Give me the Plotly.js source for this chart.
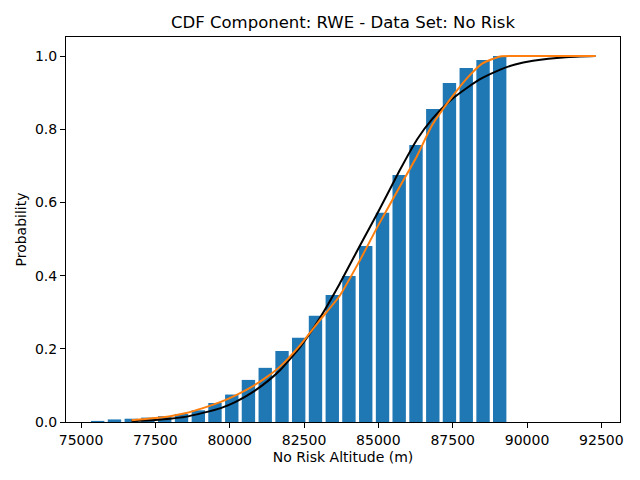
<!DOCTYPE html>
<html>
<head>
<meta charset="utf-8">
<script src="https://cdn.plot.ly/plotly-3.0.1.min.js"></script>
<style>
  html, body { margin: 0; padding: 0; background: #fff; }
  #plot { width: 640px; height: 480px; }
</style>
</head>
<body>
<div id="plot"></div>
<script>
// histogram bars (bin centres, cumulative probability)
var binCenters = [75560, 76125, 76690, 77250, 77815, 78380, 78945, 79505, 80070,
  80630, 81195, 81760, 82320, 82885, 83450, 84010, 84575, 85140, 85700, 86265,
  86830, 87390, 87955, 88520, 89080];
var binProb = [0.003, 0.007, 0.009, 0.012, 0.016, 0.022, 0.032, 0.052, 0.075,
  0.115, 0.148, 0.194, 0.230, 0.290, 0.347, 0.399, 0.481, 0.572, 0.675, 0.757,
  0.855, 0.926, 0.967, 0.989, 1.0];

// fitted curves
var curveX = [76700, 77400, 78000, 78500, 79100, 79700, 80200, 80800, 81300,
  81700, 82400, 83000, 83700, 84400, 85000, 85700, 86300, 86800, 87400, 88000,
  88500, 89100, 89600, 90200, 91300, 92300];
var blackCdf = [0.003, 0.005, 0.009, 0.014, 0.025, 0.038, 0.055, 0.083, 0.113,
  0.142, 0.208, 0.280, 0.378, 0.485, 0.575, 0.685, 0.772, 0.827, 0.877, 0.914,
  0.940, 0.963, 0.977, 0.987, 0.997, 1.0];
var orangeCdf = [0.005, 0.010, 0.016, 0.024, 0.038, 0.055, 0.073, 0.099, 0.126,
  0.152, 0.213, 0.275, 0.345, 0.445, 0.538, 0.640, 0.727, 0.810, 0.880, 0.941,
  0.980, 0.999, 1.0, 1.0, 1.0, 1.0];

var xTicks = [75000, 77500, 80000, 82500, 85000, 87500, 90000, 92500];
var xTickText = ["75000", "77500", "80000", "82500", "85000", "87500", "90000", "92500"];
var yTicks = [0, 0.2, 0.4, 0.6, 0.8, 1.0];
var yTickText = ["0.0", "0.2", "0.4", "0.6", "0.8", "1.0"];

var font = "DejaVu Sans, sans-serif";

var bars = {
  x: binCenters,
  y: binProb,
  type: "bar",
  width: 450,
  marker: { color: "#1f77b4", line: { width: 0 } },
  hoverinfo: "x+y"
};

var normLine = {
  x: curveX,
  y: blackCdf,
  type: "scatter",
  mode: "lines",
  line: { color: "#000000", width: 2, shape: "spline", smoothing: 0.5 }
};

var fitLine = {
  x: curveX,
  y: orangeCdf,
  type: "scatter",
  mode: "lines",
  line: { color: "#ff7f0e", width: 2, shape: "spline", smoothing: 0.5 }
};

var axisCommon = {
  showgrid: false,
  zeroline: false,
  showline: true,
  mirror: true,
  linecolor: "#000",
  linewidth: 1,
  ticks: "outside",
  ticklen: 5,
  tickwidth: 1,
  tickcolor: "#000",
  tickfont: { family: font, size: 14, color: "#000" },
  tickmode: "array"
};

var layout = {
  width: 640,
  height: 480,
  paper_bgcolor: "#fff",
  plot_bgcolor: "#fff",
  showlegend: false,
  margin: { l: 66, r: 20, t: 37, b: 58 },
  title: {
    text: "CDF Component: RWE - Data Set: No Risk",
    font: { family: font, size: 16.5, color: "#000" },
    xref: "paper", x: 0.5,
    yref: "container", y: 0.954, yanchor: "middle"
  },
  xaxis: Object.assign({}, axisCommon, {
    range: [74495, 93126],
    tickvals: xTicks,
    ticktext: xTickText,
    title: { text: "No Risk Altitude (m)", font: { family: font, size: 14, color: "#000" }, standoff: 5 }
  }),
  yaxis: Object.assign({}, axisCommon, {
    range: [0, 1.052],
    tickvals: yTicks,
    ticktext: yTickText,
    title: { text: "Probability", font: { family: font, size: 14, color: "#000" }, standoff: 5 }
  })
};

Plotly.newPlot("plot", [bars, normLine, fitLine], layout, { staticPlot: true });
</script>
</body>
</html>
